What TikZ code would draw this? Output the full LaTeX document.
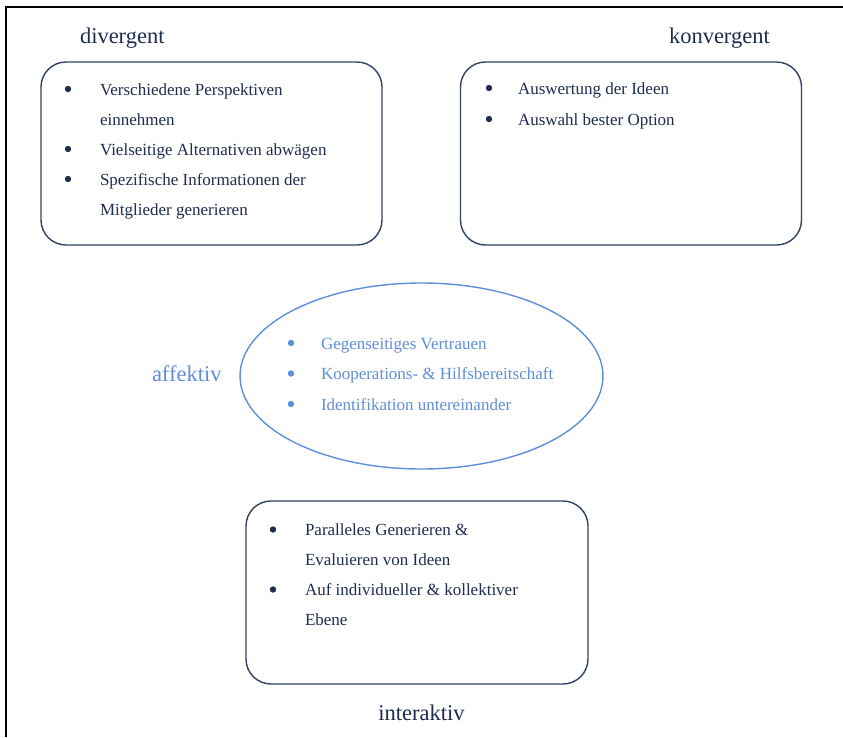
\documentclass[tikz,border=0pt]{standalone}
\usepackage{fontspec}
\setmainfont{Liberation Serif}
\usetikzlibrary{positioning, shapes.geometric}
\definecolor{navytext}{RGB}{30,44,78}
\definecolor{boxline}{RGB}{48,66,100}
\definecolor{affblue}{RGB}{95,142,218}
\newcommand{\bulletlist}[2][34pt]{\begin{tabular}[t]{@{}p{#1}@{}l@{}}#2\end{tabular}}
\newcommand{\bdot}{\tikz[baseline=-6pt]\fill[fill=.] (0,0) circle (3.2pt);}
\newcommand{\bpt}{\bdot &}
\tikzset{
    every node/.style={inner sep=0pt, outer sep=0pt}, % no padding round the texts
    box/.style={draw=boxline, line width=1.4pt, rounded corners=25pt, minimum width=341pt, minimum height=183pt}, % the three rounded boxes
    oval/.style={ellipse, draw=affblue, line width=1.4pt, minimum width=363pt, minimum height=186pt}, % the affective ellipse
    heading/.style={font=\fontsize{22.5}{27}\selectfont, text=navytext}, % the four titles
    items/.style={font=\fontsize{17}{30}\selectfont, text=navytext, anchor=base west}, % bullet lists
    frame/.style={draw=black, line width=1.6pt},
}

\begin{document}
\begin{tikzpicture}[x=1pt, y=-1pt]
            \useasboundingbox (0,0) rectangle (843,737);
            \draw[frame] (6,737) -- (6,7) -- (843,7);

            \node[box] (div) at (211.5,153.5) {};
            \node[box] (konv) at (631,153.5) {};
            \node[oval] (aff) at (421.5,376) {};
            \node[box, minimum width=342pt] (inter) at (417,592.5) {};

            \node[heading, anchor=base west] (ldiv) at (80,43) {divergent};
            \node[heading, anchor=base west] (lkonv) at (669,43) {konvergent};
            \node[heading, anchor=base west, text=affblue] (laff) at (152,381) {affektiv};
            \node[heading, anchor=base] (linter) at (421.5,720) {interaktiv};

            \node[items] (tdiv) at (64.8,95) {\bulletlist[35.2pt]{
                \bpt Verschiedene Perspektiven\\
                & einnehmen\\
                \bpt Vielseitige Alternativen abwägen\\
                \bpt Spezifische Informationen der\\
                & Mitglieder generieren}};
            \node[items, font=\fontsize{17}{31}\selectfont] (tkonv) at (485.8,94) {\bulletlist[32.2pt]{
                \bpt Auswertung der Ideen\\
                \bpt Auswahl bester Option}};
            \node[items, text=affblue, font=\fontsize{17}{30.5}\selectfont] (taff) at (287.8,349) {\bulletlist[33.2pt]{
                \bpt Gegenseitiges Vertrauen\\
                \bpt Kooperations- \& Hilfsbereitschaft\\
                \bpt Identifikation untereinander}};
            \node[items] (tinter) at (269.8,535.5) {\bulletlist[35.2pt]{
                \bpt Paralleles Generieren \&\\
                & Evaluieren von Ideen\\
                \bpt Auf individueller \& kollektiver\\
                & Ebene}};
        \end{tikzpicture}
\end{document}
